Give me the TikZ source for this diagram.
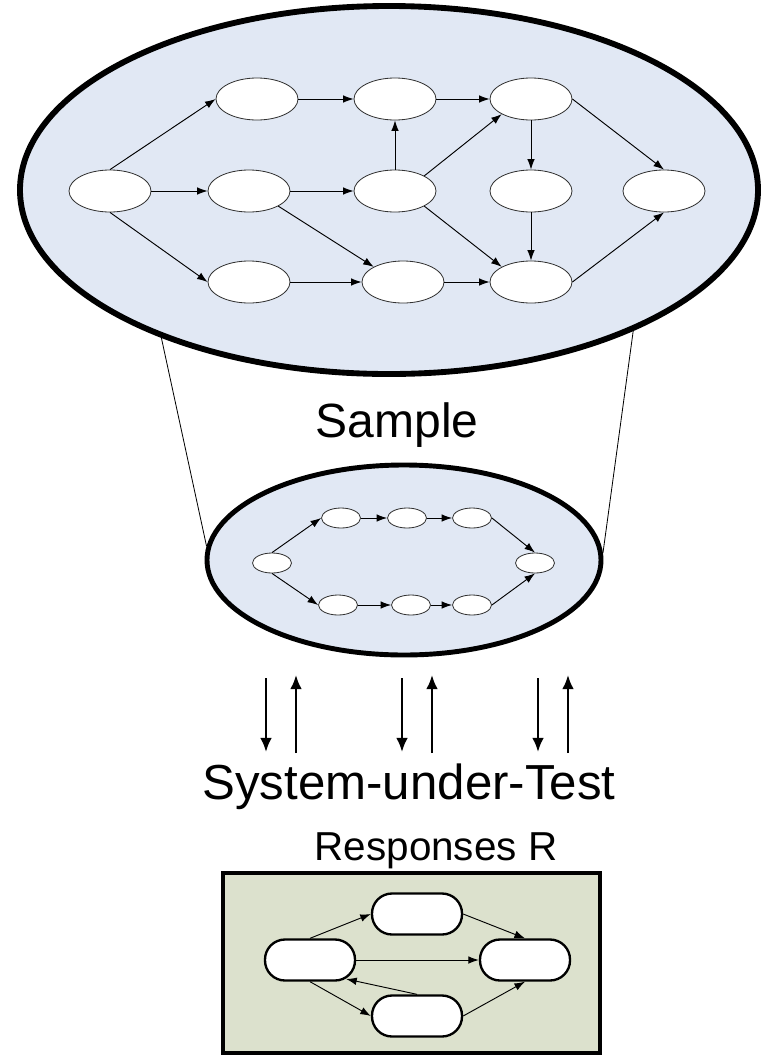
\documentclass[tikz,border=0pt]{standalone}
\usepackage{fontspec}
\setmainfont{Liberation Sans}
\usetikzlibrary{arrows.meta,shapes.geometric}

\definecolor{sampleblue}{RGB}{225,232,244}
\definecolor{respgreen}{RGB}{220,225,205}

\tikzset{
  gnode/.style={ellipse, draw=black!80, fill=white, line width=0.7pt, minimum width=2.46cm, minimum height=1.26cm, inner sep=0pt},
  snode/.style={ellipse, draw=black!80, fill=white, line width=0.7pt, minimum width=1.17cm, minimum height=0.6cm, inner sep=0pt},
  rnode/.style={rectangle, rounded corners=0.6cm, draw, fill=white, line width=2pt, minimum width=2.7cm, minimum height=1.23cm, inner sep=0pt},
  garrow/.style={-{Latex[length=9pt,width=6.5pt]}, line width=0.8pt},
  sutarrow/.style={-{Latex[length=12pt,width=10pt]}, line width=2pt},
}

\begin{document}
\begin{tikzpicture}[x=0.03cm, y=-0.03cm]
    \useasboundingbox (0,0) rectangle (762,1055);

    % The whole space of test cases
    \node[ellipse, draw, line width=5pt, fill=sampleblue, minimum width=22.14cm, minimum height=11.04cm] (space) at (389,190) {};

    % Top row
    \node[gnode] (t1) at (257,99) {};
    \node[gnode] (t2) at (395,99) {};
    \node[gnode] (t3) at (531,99) {};

    % Middle row
    \node[gnode] (m1) at (110,191) {};
    \node[gnode] (m2) at (249,191) {};
    \node[gnode] (m3) at (395,191) {};
    \node[gnode] (m4) at (531,191) {};
    \node[gnode] (m5) at (664,191) {};

    % Bottom row
    \node[gnode] (b1) at (249,282) {};
    \node[gnode] (b2) at (403,282) {};
    \node[gnode] (b3) at (531,282) {};

    \draw[garrow] (m1.north) -- (t1.west);
    \draw[garrow] (m1) -- (m2);
    \draw[garrow] (m1.south) -- (b1.west);
    \draw[garrow] (t1) -- (t2);
    \draw[garrow] (t2) -- (t3);
    \draw[garrow] (m2) -- (m3);
    \draw[garrow] (m2.south east) -- (b2.north west);
    \draw[garrow] (m3) -- (t2);
    \draw[garrow] (m3.north east) -- (t3.south west);
    \draw[garrow] (m3.south east) -- (b3.north west);
    \draw[garrow] (b1) -- (b2);
    \draw[garrow] (b2) -- (b3);
    \draw[garrow] (t3) -- (m4);
    \draw[garrow] (m4) -- (b3);
    \draw[garrow] (t3.east) -- (m5.north);
    \draw[garrow] (b3.east) -- (m5.south);

    \node[anchor=base, font=\fontsize{41}{48}\selectfont] (samplelbl) at (397,437) {Sample};

    % The sample
    \node[ellipse, draw, line width=4.2pt, fill=sampleblue, minimum width=11.82cm, minimum height=5.7cm] (sample) at (404,560) {};
    \draw[line width=0.7pt] (space.213.5) -- (sample.176.5);
    \draw[line width=0.7pt] (space.-30.9) -- (sample.2.3);

    \node[snode] (sL) at (272,563) {};
    \node[snode] (sT1) at (341,518) {};
    \node[snode] (sT2) at (407,518) {};
    \node[snode] (sT3) at (472,518) {};
    \node[snode] (sB1) at (338,605) {};
    \node[snode] (sB2) at (411,605) {};
    \node[snode] (sB3) at (472,605) {};
    \node[snode] (sR) at (535,563) {};

    \draw[garrow] (sL.north) -- (sT1.west);
    \draw[garrow] (sT1) -- (sT2);
    \draw[garrow] (sT2) -- (sT3);
    \draw[garrow] (sT3.east) -- (sR.north);
    \draw[garrow] (sL.south) -- (sB1.west);
    \draw[garrow] (sB1) -- (sB2);
    \draw[garrow] (sB2) -- (sB3);
    \draw[garrow] (sB3.east) -- (sR.south);

    % Inputs and outputs
    \foreach \x/\n in {266/a, 402/b, 538/c} {
        \coordinate (in\n1) at (\x,678);
        \coordinate (in\n2) at (\x,752);
        \coordinate (out\n1) at (\x+30,753);
        \coordinate (out\n2) at (\x+30,675);
        \draw[sutarrow] (in\n1) -- (in\n2);
        \draw[sutarrow] (out\n1) -- (out\n2);
    }

    \node[anchor=base, font=\fontsize{42}{50}\selectfont] (sutlbl) at (409,799) {System-under-Test};
    \node[anchor=base, font=\fontsize{34.5}{40}\selectfont] (resplbl) at (436,860) {Responses R};

    % Responses
    \draw[line width=4pt, fill=respgreen] (223,873) rectangle (600,1053);

    \node[rnode] (rL) at (310,960) {};
    \node[rnode] (rT) at (417,914) {};
    \node[rnode] (rB) at (417,1016) {};
    \node[rnode] (rR) at (525,960) {};

    \draw[garrow] (rL.north) -- (rT.west);
    \draw[garrow] (rT.east) -- (rR.north);
    \draw[garrow] (rL.east) -- (rR.west);
    \draw[garrow] (rB.north) -- ([xshift=-0.3cm,yshift=0.08cm]rL.south east);
    \draw[garrow] (rL.south) -- (rB.west);
    \draw[garrow] (rB.east) -- (rR.south);
\end{tikzpicture}
\end{document}
